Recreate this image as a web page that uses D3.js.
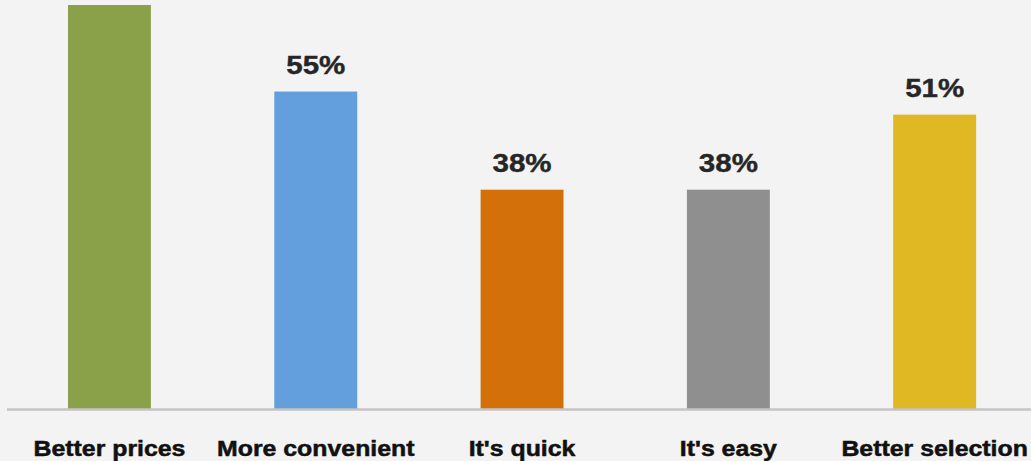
<!DOCTYPE html>
<html>
<head>
<meta charset="utf-8">
<script src="https://cdn.jsdelivr.net/npm/d3@7"></script>
<style>
  html, body { margin: 0; padding: 0; background: #f3f3f3; }
  svg { display: block; }
</style>
</head>
<body>
<div id="chart"></div>
<script>
// Reasons for shopping online (% of respondents)
const categories = ["Better prices", "More convenient", "It's quick", "It's easy", "Better selection"];
const values = [70, 55, 38, 38, 51];
const colors = ["#8aa14a", "#629fdc", "#d4700a", "#8f8f8f", "#e0b823"];

const width = 1031, height = 461;
const baseline = 409;

const svg = d3.select("#chart").append("svg")
  .attr("width", width)
  .attr("height", height);

svg.append("rect").attr("width", width).attr("height", height).attr("fill", "#f3f3f3");

const x = d3.scaleBand()
  .domain(categories)
  .range([6.3, 1037.8])
  .paddingInner(0.598)
  .paddingOuter(0.299);

const y = d3.scaleLinear()
  .domain([0, 70])
  .range([baseline, 5]);

// Bars
svg.append("g").selectAll("rect")
  .data(categories)
  .join("rect")
  .attr("x", d => x(d))
  .attr("y", (d, i) => y(values[i]))
  .attr("width", x.bandwidth())
  .attr("height", (d, i) => y(0) - y(values[i]))
  .attr("fill", (d, i) => colors[i]);

// Baseline axis
const axis = svg.append("g")
  .attr("transform", `translate(0,${baseline + 0.5})`)
  .call(d3.axisBottom(x).tickSize(0).tickPadding(0).tickFormat(""));
axis.select(".domain")
  .attr("d", `M7,0H${width}`)
  .attr("stroke", "#c4c4c4")
  .attr("stroke-width", 2.5);

// Category labels
svg.append("g").selectAll("text")
  .data(categories)
  .join("text")
  .attr("transform", d => `translate(${x(d) + x.bandwidth() / 2},456) scale(1.13,1)`)
  .attr("text-anchor", "middle")
  .attr("font-family", "Liberation Sans, Arial, sans-serif")
  .attr("font-weight", "bold")
  .attr("font-size", 22)
  .attr("fill", "#111")
  .attr("stroke", "#111")
  .attr("stroke-width", 0.5)
  .text(d => d);

// Value labels, only where there is room above the bar
const labelGap = 18, labelCap = 18;
const labelled = categories
  .map((c, i) => ({ c, v: values[i] }))
  .filter(d => y(d.v) - labelGap - labelCap >= 0);

svg.append("g").selectAll("text")
  .data(labelled)
  .join("text")
  .attr("transform", d => `translate(${x(d.c) + x.bandwidth() / 2},${y(d.v) - labelGap}) scale(1.18,1)`)
  .attr("text-anchor", "middle")
  .attr("font-family", "Liberation Sans, Arial, sans-serif")
  .attr("font-weight", "bold")
  .attr("font-size", 25)
  .attr("fill", "#262626")
  .attr("stroke", "#262626")
  .attr("stroke-width", 0.4)
  .text(d => d.v + "%");
</script>
</body>
</html>
